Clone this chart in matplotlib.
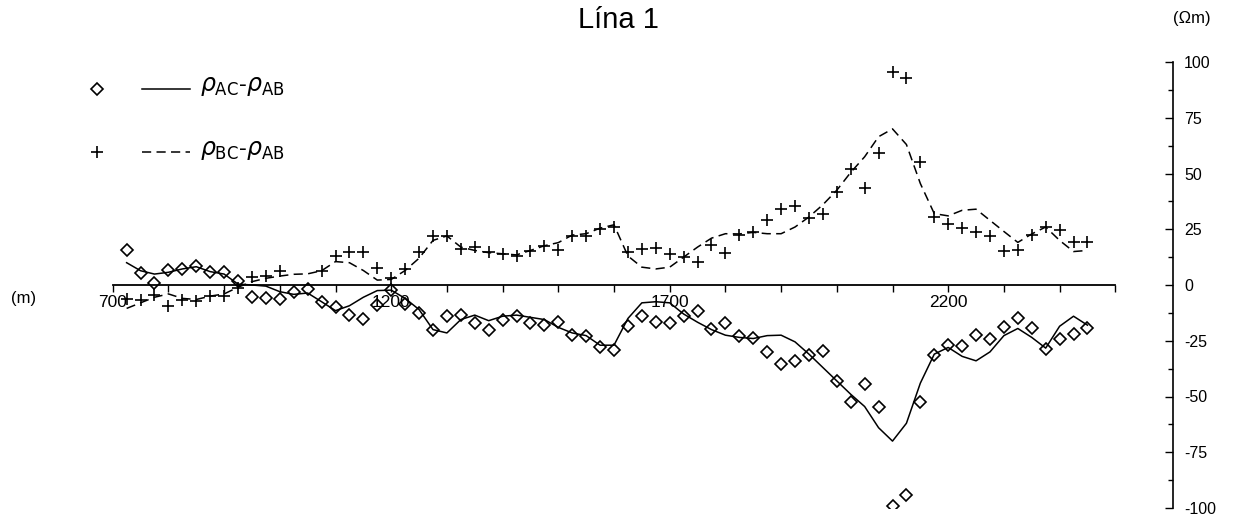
import numpy as np
import matplotlib
matplotlib.use("Agg")
import matplotlib.pyplot as plt
from matplotlib.lines import Line2D
from matplotlib.ticker import MultipleLocator

plt.rcParams['font.family'] = ['Liberation Sans', 'DejaVu Sans']
plt.rcParams['axes.unicode_minus'] = False

# stations along the profile (m), one reading every 25 m
stations = np.arange(725, 2451, 25)

# measured differences (Ohm m)
rho_ac_ab = [15.5, 5.4, 1.0, 6.9, 7.2, 8.7, 6.0, 6.0, 1.9, -5.2,
             -5.8, -6.3, -3.0, -2.0, -7.5, -10.0, -13.5, -15.2, -9.0, -2.1,
             -8.5, -12.6, -20.2, -14.0, -13.3, -17.2, -20.2, -15.5, -14.0, -17.2,
             -18.0, -16.4, -22.3, -22.7, -27.6, -29.0, -18.2, -14.0, -16.7, -17.2,
             -14.0, -11.8, -19.8, -17.0, -23.0, -23.8, -29.9, -35.4, -33.9, -31.2,
             -29.5, -42.9, -52.6, -44.4, -54.8, -99.0, -94.0, -52.3, -31.3, -27.0,
             -27.2, -22.6, -24.3, -19.0, -14.9, -19.2, -28.5, -24.2, -22.0, -19.4]

# nan = no reading plotted at that station
rho_bc_ab = [-6.3, -6.7, -4.5, -9.6, -6.7, -7.0, -5.1, -5.1, -1.3, 3.4,
             4.2, 6.4, np.nan, np.nan, 6.4, 13.1, 14.7, 14.7, 7.6, 3.1,
             7.2, 14.7, 22.1, 22.1, 16.1, 16.9, 14.9, 13.9, 13.1, 15.4,
             17.6, 15.7, 22.1, 21.8, 25.1, 25.9, 14.9, 16.1, 16.5, 13.9,
             12.4, 10.4, 18.1, 14.3, 22.4, 23.9, 29.3, 34.1, 35.6, 29.9,
             31.8, 41.6, 52.2, 43.5, 59.2, 95.7, 92.8, 55.0, 30.5, 27.5,
             25.4, 23.6, 21.8, 15.2, 15.7, 22.5, 26.2, 24.5, 19.4, 19.4]

# smoothed curves
fit_ac_ab = [10.0, 6.4, 4.9, 5.7, 7.2, 8.2, 6.0, 4.9, 0.4, 0.0,
             -0.5, -3.0, -4.2, -3.6, -7.5, -11.5, -9.3, -5.5, -2.5, -2.3,
             -6.0, -11.0, -20.0, -21.5, -15.5, -13.5, -16.0, -14.0, -13.5, -14.5,
             -15.5, -19.0, -21.5, -22.7, -27.0, -27.0, -15.0, -8.0, -7.5, -8.0,
             -13.0, -16.7, -20.0, -22.5, -23.5, -24.0, -22.7, -22.5, -25.5, -31.0,
             -37.0, -43.0, -49.0, -54.5, -64.0, -70.0, -62.0, -44.0, -31.0, -28.0,
             -32.0, -34.0, -30.0, -22.7, -19.5, -23.5, -28.3, -18.5, -14.0, -18.0]

fit_bc_ab = [-10.5, -8.0, -5.5, -4.0, -6.0, -6.5, -5.0, -4.0, -1.0, 1.5,
             3.0, 4.0, 4.8, 5.0, 6.4, 10.5, 10.0, 6.5, 2.2, 2.5,
             6.5, 12.0, 20.0, 22.0, 17.0, 15.5, 14.5, 14.0, 13.5, 15.5,
             17.6, 19.0, 22.4, 23.0, 25.5, 27.0, 13.0, 8.0, 7.2, 8.0,
             12.5, 17.0, 21.0, 23.0, 22.9, 23.6, 23.0, 23.0, 26.0, 30.5,
             36.0, 42.5, 50.5, 57.5, 66.5, 70.0, 63.0, 45.5, 32.0, 31.0,
             33.5, 34.0, 29.0, 24.0, 19.1, 22.9, 26.0, 20.0, 15.0, 15.5]

x_labels = [700, 1200, 1700, 2200]

W, H = 1243, 522
fig = plt.figure(figsize=(W / 100, H / 100), dpi=100)
ax = fig.add_axes([112.7 / W, 14 / H, (1173 - 112.7) / W, 446 / H])
ax.set_xlim(700, 700 + (1173 - 112.7) / 0.557)
ax.set_ylim(-100, 100)

diamond = dict(marker='D', ms=6.5, mfc='none', mec='black', mew=1.2)
cross = dict(marker='+', ms=8, mec='black', mew=1.2)

# curves and readings
ax.plot(stations, fit_ac_ab, color='black', lw=1.1)
ax.plot(stations, fit_bc_ab, color='black', lw=1.1, dashes=(6, 3.5))
ax.plot(stations, rho_ac_ab, ls='none', **diamond)
ax.plot(stations, rho_bc_ab, ls='none', **cross)

# axes: distance line at zero, scale bar on the right
ax.spines['left'].set_visible(False)
ax.spines['top'].set_visible(False)
ax.spines['bottom'].set_position(('data', 0))
ax.spines['bottom'].set_bounds(700, 2500)
ax.spines['bottom'].set_linewidth(1.3)
ax.spines['right'].set_bounds(-100, 100)
ax.spines['right'].set_linewidth(1.2)

ax.set_xticks(np.arange(700, 2501, 100))
ax.set_xticklabels([str(v) if v in x_labels else '' for v in range(700, 2501, 100)])
ax.tick_params(axis='x', direction='out', length=5, width=1, pad=2, labelsize=12.5)

ax.yaxis.tick_right()
yt = list(range(-100, 101, 25))
ax.set_yticks(yt)
ax.set_yticklabels([str(v) for v in yt])
ax.yaxis.set_minor_locator(MultipleLocator(12.5))
ax.tick_params(axis='y', which='major', direction='in', length=6, width=1,
               pad=8, labelsize=11.5)
ax.tick_params(axis='y', which='minor', direction='in', length=3.5, width=1)

# titles and units
fig.text(618 / W, 1 - 20 / H, 'Lína 1', ha='center', va='center', fontsize=21)
fig.text(1192 / W, 1 - 18 / H, '(Ωm)', ha='center', va='center', fontsize=12)
fig.text(24 / W, 1 - 298 / H, '(m)', ha='center', va='center', fontsize=12)

# legend drawn by hand: marker, line sample, label
rows = [(89, diamond, '-', r'$\rho_{\rm AC}$-$\rho_{\rm AB}$'),
        (152, cross, '--', r'$\rho_{\rm BC}$-$\rho_{\rm AB}$')]
for ypx, mk, ls, lab in rows:
    yf = 1 - ypx / H
    fig.add_artist(Line2D([97 / W], [yf], transform=fig.transFigure, **mk))
    kw = dict(dashes=(6, 3.5)) if ls == '--' else {}
    fig.add_artist(Line2D([142 / W, 190 / W], [yf, yf], color='black', lw=1.1,
                          transform=fig.transFigure, **kw))
    fig.text(200 / W, yf + 2 / H, lab, ha='left', va='center', fontsize=17)

fig.savefig('out.png', dpi=100)
